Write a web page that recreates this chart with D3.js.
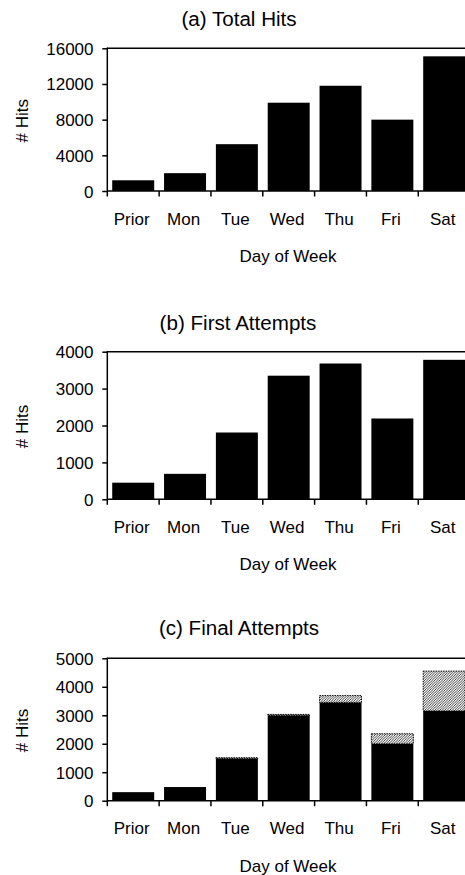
<!DOCTYPE html>
<html><head><meta charset="utf-8">
<script src="https://cdn.jsdelivr.net/npm/d3@7"></script>
<style>
html,body{margin:0;padding:0;background:#fff;}
svg{display:block;}
text{font-family:"Liberation Sans",Arial,sans-serif;fill:#000;}
</style></head>
<body>
<svg id="chart" width="465" height="875"></svg>
<script>
const days = ["Prior","Mon","Tue","Wed","Thu","Fri","Sat"];
const totalHits = [1200,2000,5250,9900,11800,8000,15100];
const firstAttempts = [450,690,1810,3350,3680,2190,3780];
const finalSolid = [300,480,1480,3000,3450,2000,3150];
const finalHatched = [0,0,30,30,240,350,1400];
const ticksA = [0,4000,8000,12000,16000];
const ticksB = [0,1000,2000,3000,4000];
const ticksC = [0,1000,2000,3000,4000,5000];
const titles = ["(a) Total Hits","(b) First Attempts","(c) Final Attempts"];
const xTitle = "Day of Week";
const yTitle = "# Hits";

const svg = d3.select("#chart");
const defs = svg.append("defs");
const pat = defs.append("pattern").attr("id","hatch").attr("patternUnits","userSpaceOnUse")
  .attr("width",2.5).attr("height",2.5);
pat.append("rect").attr("width",2.5).attr("height",2.5).attr("fill","#fff");
pat.append("path").attr("d","M-1,1 l2,-2 M0,2.5 l2.5,-2.5 M1.5,3.5 l2,-2").attr("stroke","#000").attr("stroke-width",0.75);

function txt(g, x, y, s, size, anchor, sx, rot){
  g.append("text")
    .attr("transform", `translate(${x},${y})` + (rot ? ` rotate(${rot})` : "") + ` scale(${sx||1},1)`)
    .attr("text-anchor", anchor || "middle")
    .attr("font-size", size)
    .text(s);
}

const x = d3.scaleBand().domain(days).range([107.3, 470.1]).paddingInner(0.19).paddingOuter(0.095);

const panels = [
  {title: titles[0], top: 48.3, bottom: 191, max: 16000, ticks: ticksA, titleY: 26, titleX: 239,
   series: [{vals: totalHits, fill: "#000"}]},
  {title: titles[1], top: 351.7, bottom: 499.3, max: 4000, ticks: ticksB, titleY: 329.5, titleX: 238,
   series: [{vals: firstAttempts, fill: "#000"}]},
  {title: titles[2], top: 658.3, bottom: 800.7, max: 5000, ticks: ticksC, titleY: 635, titleX: 239,
   series: [{vals: finalSolid, fill: "#000"}, {vals: finalHatched, fill: "url(#hatch)", dashed: true}]}
];

panels.forEach(p => {
  const g = svg.append("g");
  const y = d3.scaleLinear().domain([0, p.max]).range([p.bottom, p.top]);
  const x0 = x.range()[0], x1 = x.range()[1];

  const base = days.map(() => 0);
  p.series.forEach(s => {
    days.forEach((d, i) => {
      const v = s.vals[i];
      if (v <= 0) return;
      const yTop = y(base[i] + v), yBot = y(base[i]);
      const r = g.append("rect")
        .attr("x", x(d)).attr("width", x.bandwidth())
        .attr("y", yTop).attr("height", Math.max(0.6, yBot - yTop))
        .attr("fill", s.fill);
      if (s.dashed) r.attr("stroke", "#000").attr("stroke-width", 1).attr("stroke-dasharray", "1.5,1");
      base[i] += v;
    });
  });

  g.append("line").attr("x1", x0).attr("x2", x1).attr("y1", y(p.max)).attr("y2", y(p.max))
    .attr("stroke", "#000").attr("stroke-width", 1.5);

  const ya = g.append("g").attr("transform", `translate(${x0},0)`)
    .call(d3.axisLeft(y).tickValues(p.ticks).tickSize(5).tickFormat(""));
  ya.select(".domain").remove();
  ya.selectAll("line").attr("stroke", "#000").attr("stroke-width", 1.5);
  g.append("line").attr("x1", x0).attr("x2", x0).attr("y1", y(p.max) - 0.75).attr("y2", y(0) + 0.75)
    .attr("stroke", "#000").attr("stroke-width", 1.5);
  p.ticks.forEach(t => txt(g, 93.5, y(t) + 6.5, String(t), 17, "end"));

  g.append("line").attr("x1", x0).attr("x2", x1).attr("y1", y(0)).attr("y2", y(0))
    .attr("stroke", "#000").attr("stroke-width", 1.5);
  const step = x.step();
  d3.range(days.length + 1).forEach(i => {
    g.append("line").attr("x1", x0 + i * step).attr("x2", x0 + i * step)
      .attr("y1", y(0)).attr("y2", y(0) + 5.5).attr("stroke", "#000").attr("stroke-width", 1.5);
  });
  days.forEach(d => txt(g, x(d) + x.bandwidth() / 2 - 1.5, y(0) + 33.5, d, 17, "middle"));

  txt(g, 288, y(0) + 71, xTitle, 17, "middle");
  txt(g, 27.5, (p.top + p.bottom) / 2 + 1, yTitle, 17, "middle", 1, -90);
  txt(g, p.titleX, p.titleY, p.title, 20, "middle", 1.03);
});
</script>
</body></html>
